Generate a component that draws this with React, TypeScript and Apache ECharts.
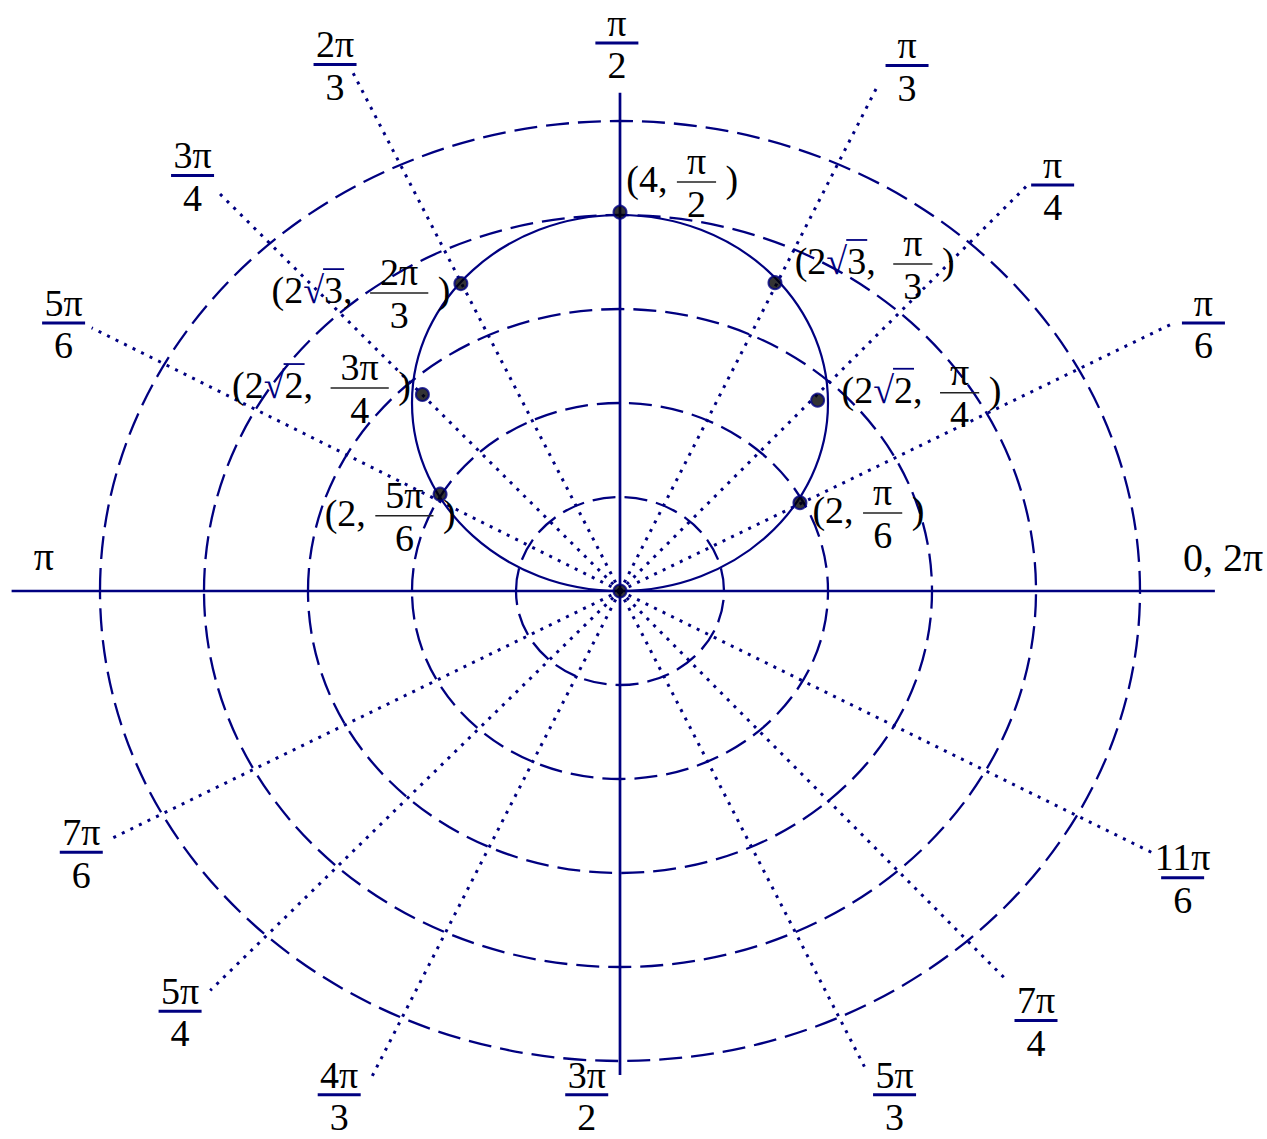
import React, { useEffect, useRef } from 'react';
import * as echarts from 'echarts';

// ---------- data (plot units: r = 4 sin θ, polar grid) ----------
const gridRadii = [1, 2, 3, 4, 5];
const curveDiameter = 4; // r = 4 sin θ  → circle through the pole
const axisHLimits = [-5.85, 5.72];
const axisVLimits = [-5.15, 5.3];

// dotted angle rays (end points, plot units)
const rayNames = ['π/6', 'π/4', 'π/3', '2π/3', '3π/4', '5π/6', '7π/6', '5π/4', '4π/3', '5π/3', '7π/4', '11π/6'];
const rayEndX = [5.34, 3.92, 2.48, -2.58, -3.87, -5.08, -4.92, -3.94, -2.41, 2.35, 3.69, 5.11];
const rayEndY = [2.86, 4.32, 5.38, 5.54, 4.25, 2.8, -2.65, -4.25, -5.22, -5.06, -4.11, -2.78];

// plotted points (plot units)
const pointNames = ['(2, π/6)', '(2√2, π/4)', '(2√3, π/3)', '(4, π/2)', '(2√3, 2π/3)', '(2√2, 3π/4)', '(2, 5π/6)', 'pole'];
const pointX = [1.73, 1.9, 1.49, 0, -1.53, -1.9, -1.73, 0];
const pointY = [0.94, 2.03, 3.28, 4.03, 3.27, 2.09, 1.03, 0];

// angle labels (fractions)
const angleNum = ['π', 'π', 'π', 'π', '2π', '3π', '5π', '7π', '5π', '4π', '3π', '5π', '7π', '11π'];
const angleDen = ['6', '4', '3', '2', '3', '4', '6', '6', '4', '3', '2', '3', '4', '6'];
// plain angle labels
const plainLabels = ['π', '0, 2π'];

// point labels: "(lead√rad, num/den)"
const ptLead = ['2', '2', '2', '4', '2', '2', '2'];
const ptRad = ['', '2', '3', '', '3', '2', ''];
const ptNum = ['π', 'π', 'π', 'π', '2π', '3π', '5π'];
const ptDen = ['6', '4', '3', '2', '3', '4', '6'];

// ---------- layout ----------
const W = 1267;
const H = 1139;
const POLE_PX = [620, 591];
const UNIT_PX = [104, 94];
const X_MIN = -POLE_PX[0] / UNIT_PX[0];
const X_MAX = (W - POLE_PX[0]) / UNIT_PX[0];
const Y_MIN = -(H - POLE_PX[1]) / UNIT_PX[1];
const Y_MAX = POLE_PX[1] / UNIT_PX[1];

const angleLabelPos = [
  [5.61, 2.85], [4.16, 4.32], [2.76, 5.59], [-0.03, 5.83], [-2.74, 5.6], [-4.11, 4.42], [-5.35, 2.85],
  [-5.18, -2.78], [-4.23, -4.47], [-2.7, -5.36], [-0.32, -5.36], [2.64, -5.36], [4.0, -4.57], [5.41, -3.05],
];
const plainLabelPos = [[-5.54, 0.37], [5.8, 0.36]];
const ptLabelPos = [
  [1.85, 0.83], [2.13, 2.11], [1.68, 3.48], [0.06, 4.35], [-3.35, 3.17], [-3.73, 2.16], [-2.84, 0.8],
];

const NAVY = '#000080';
const FAMILY = '"Liberation Serif", "Times New Roman", serif';
const PLAIN_FS = 40;
const FRAC_FS = 38;
const FRAC_LH = 42.5;
const PT_FS = 38;

let measureCtx: CanvasRenderingContext2D | null = null;
function textWidth(s: string, font: string): number {
  if (!measureCtx) measureCtx = document.createElement('canvas').getContext('2d');
  if (!measureCtx) return s.length * 19;
  measureCtx.font = font;
  return measureCtx.measureText(s).width;
}

function txt(s: string, x: number, y: number, font: string, fill: string, align = 'left', lineHeight?: number) {
  const style: any = { text: s, font, fill, align, verticalAlign: 'middle', textAlign: align, textVerticalAlign: 'middle' };
  if (lineHeight) style.lineHeight = lineHeight;
  return { type: 'text', x, y, style };
}

export default function App() {
  const ref = useRef<HTMLDivElement | null>(null);

  useEffect(() => {
    if (!ref.current) return;
    const chart = echarts.init(ref.current, undefined, { renderer: 'svg' });

    const option: any = {
      animation: false,
      grid: { left: 0, top: 0, width: W, height: H, containLabel: false, outerBoundsMode: 'none' },
      xAxis: { type: 'value', min: X_MIN, max: X_MAX, show: false },
      yAxis: { type: 'value', min: Y_MIN, max: Y_MAX, show: false },
      series: [
        {
          name: 'grid circles',
          type: 'custom',
          clip: false,
          silent: true,
          data: gridRadii.map((r) => [r, 0]),
          renderItem: (_p: any, api: any) => {
            const r = api.value(0);
            const c = api.coord([0, 0]);
            const s = api.size([r, r]);
            return {
              type: 'ellipse',
              shape: { cx: c[0], cy: c[1], rx: s[0], ry: s[1] },
              style: { fill: 'none', stroke: NAVY, lineWidth: 2.3, lineDash: [23, 9] },
            };
          },
        },
        {
          name: 'rays',
          type: 'custom',
          clip: false,
          silent: true,
          data: rayNames.map((n, i) => [rayEndX[i], rayEndY[i], n]),
          renderItem: (_p: any, api: any) => {
            const a = api.coord([0, 0]);
            const b = api.coord([api.value(0), api.value(1)]);
            return {
              type: 'line',
              shape: { x1: a[0], y1: a[1], x2: b[0], y2: b[1] },
              style: { stroke: NAVY, lineWidth: 3, lineDash: [3, 6.5] },
            };
          },
        },
        {
          name: 'horizontal axis',
          type: 'line',
          symbol: 'none',
          silent: true,
          data: [[axisHLimits[0], 0], [axisHLimits[1], 0]],
          lineStyle: { color: NAVY, width: 2.7 },
        },
        {
          name: 'vertical axis',
          type: 'line',
          symbol: 'none',
          silent: true,
          data: [[0, axisVLimits[0]], [0, axisVLimits[1]]],
          lineStyle: { color: NAVY, width: 2.7 },
        },
        {
          name: 'r = 4 sin θ',
          type: 'custom',
          clip: false,
          silent: true,
          data: [[0, curveDiameter / 2, curveDiameter / 2]],
          renderItem: (_p: any, api: any) => {
            const c = api.coord([api.value(0), api.value(1)]);
            const rr = api.value(2);
            const s = api.size([rr, rr]);
            return {
              type: 'ellipse',
              shape: { cx: c[0], cy: c[1], rx: s[0], ry: s[1] },
              style: { fill: 'none', stroke: NAVY, lineWidth: 2.2 },
            };
          },
        },
        {
          name: 'points',
          type: 'scatter',
          symbol: 'circle',
          symbolSize: 13,
          silent: true,
          z: 5,
          data: pointNames.map((n, i) => ({ name: n, value: [pointX[i], pointY[i]] })),
          itemStyle: { color: '#000', borderColor: NAVY, borderWidth: 2 },
        },
        {
          name: 'angle labels',
          type: 'custom',
          clip: false,
          silent: true,
          z: 6,
          data: angleLabelPos.map((p) => [p[0], p[1]]),
          renderItem: (params: any, api: any) => {
            const i = params.dataIndex;
            const c = api.coord([api.value(0), api.value(1)]);
            const font = `${FRAC_FS}px ${FAMILY}`;
            return {
              type: 'group',
              x: c[0],
              y: c[1],
              children: [
                txt(angleNum[i] + '\n' + angleDen[i], 0, 1, font, '#000', 'center', FRAC_LH),
                { type: 'line', shape: { x1: -21.5, y1: 0, x2: 21.5, y2: 0 }, style: { stroke: NAVY, lineWidth: 3 } },
              ],
            };
          },
        },
        {
          name: 'plain labels',
          type: 'custom',
          clip: false,
          silent: true,
          z: 6,
          data: plainLabelPos.map((p) => [p[0], p[1]]),
          renderItem: (params: any, api: any) => {
            const i = params.dataIndex;
            const c = api.coord([api.value(0), api.value(1)]);
            return txt(plainLabels[i], c[0], c[1], `${PLAIN_FS}px ${FAMILY}`, '#000', 'center');
          },
        },
        {
          name: 'point labels',
          type: 'custom',
          clip: false,
          silent: true,
          z: 6,
          data: ptLabelPos.map((p) => [p[0], p[1]]),
          renderItem: (params: any, api: any) => {
            const i = params.dataIndex;
            const c = api.coord([api.value(0), api.value(1)]);
            const font = `${PT_FS}px ${FAMILY}`;
            const children: any[] = [];
            const mainY = -3;
            let x = 0;
            const lead = '(' + ptLead[i];
            children.push(txt(lead, x, mainY, font, '#000'));
            x += textWidth(lead, font);
            let extra = 0;
            if (ptRad[i]) {
              children.push(txt('√', x, mainY, font, NAVY));
              x += textWidth('√', font);
              const wr = textWidth(ptRad[i], font);
              children.push(txt(ptRad[i], x, mainY, font, '#000'));
              const ovY = mainY - 0.55 * PT_FS;
              children.push({
                type: 'line',
                shape: { x1: x - 1, y1: ovY, x2: x + wr + 1, y2: ovY },
                style: { stroke: NAVY, lineWidth: 1.8 },
              });
              x += wr;
              extra = 8;
            }
            children.push(txt(',', x, mainY, font, '#000'));
            x += textWidth(', ', font) + extra;
            const bw = textWidth(ptNum[i], font) + 20;
            children.push({
              type: 'line',
              shape: { x1: x, y1: 0, x2: x + bw, y2: 0 },
              style: { stroke: '#222', lineWidth: 1.5 },
            });
            children.push(txt(ptNum[i] + '\n' + ptDen[i], x + bw / 2, 0.5, font, '#000', 'center', FRAC_LH));
            x += bw + textWidth(' ', font);
            children.push(txt(')', x, mainY, font, '#000'));
            return { type: 'group', x: c[0], y: c[1], children };
          },
        },
      ],
    };

    chart.setOption(option);
    return () => {
      chart.dispose();
    };
  }, []);

  return (
    <div
      ref={ref}
      style={{ position: 'absolute', left: 0, top: 0, width: W, height: H, background: '#fff' }}
    />
  );
}
